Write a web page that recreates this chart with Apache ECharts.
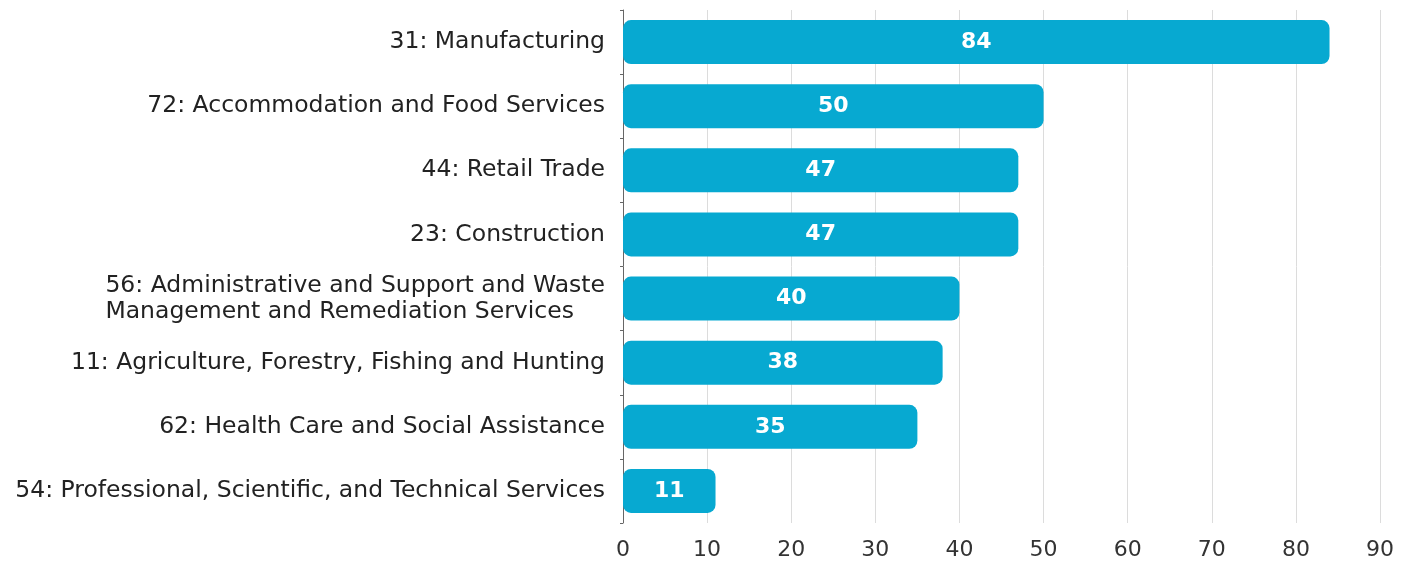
<!DOCTYPE html>
<html><head><meta charset="utf-8">
<script src="https://cdn.jsdelivr.net/npm/echarts@6/dist/echarts.min.js"></script>
<style>html,body{margin:0;padding:0;background:#fff}#c{width:1413px;height:565px}</style>
</head><body><div id="c"></div>
<script>
const categories = [
  "31: Manufacturing",
  "72: Accommodation and Food Services",
  "44: Retail Trade",
  "23: Construction",
  "56: Administrative and Support and Waste\nManagement and Remediation Services",
  "11: Agriculture, Forestry, Fishing and Hunting",
  "62: Health Care and Social Assistance",
  "54: Professional, Scientific, and Technical Services"
];
const values = [84, 50, 47, 47, 40, 38, 35, 11];
const xTicks = [0, 10, 20, 30, 40, 50, 60, 70, 80, 90];

const FONT = '"DejaVu Sans", sans-serif';
const chart = echarts.init(document.getElementById('c'));
chart.setOption({
  animation: false,
  backgroundColor: '#ffffff',
  grid: { left: 623, right: 33, top: 10, bottom: 42, containLabel: false },
  xAxis: {
    type: 'value', min: xTicks[0], max: xTicks[xTicks.length - 1], interval: 10,
    axisLine: { show: false }, axisTick: { show: false },
    splitLine: { show: true, lineStyle: { color: '#dcdcdc', width: 1 } },
    axisLabel: { color: '#333', fontSize: 22, fontFamily: FONT, margin: 16 }
  },
  yAxis: {
    type: 'category', data: categories, inverse: true,
    axisLine: { show: true, lineStyle: { color: '#666', width: 1 } },
    axisTick: { show: true, length: 3, lineStyle: { color: '#666' } },
    axisLabel: {
      color: '#222', fontSize: 23.5, fontFamily: FONT, margin: 18, lineHeight: 26, align: 'right',
      formatter: v => v.split('\n').map(s => '{l|' + s + '}').join('\n'),
      rich: { l: { align: 'left', fontSize: 23.5, fontFamily: FONT, color: '#222', lineHeight: 26 } }
    }
  },
  series: [{
    type: 'bar', data: values, barWidth: 44,
    itemStyle: { color: '#07a9d1', borderRadius: 8 },
    label: { show: true, position: 'inside', color: '#fff', fontSize: 22, fontWeight: 'bold', fontFamily: FONT }
  }]
});
</script></body></html>
